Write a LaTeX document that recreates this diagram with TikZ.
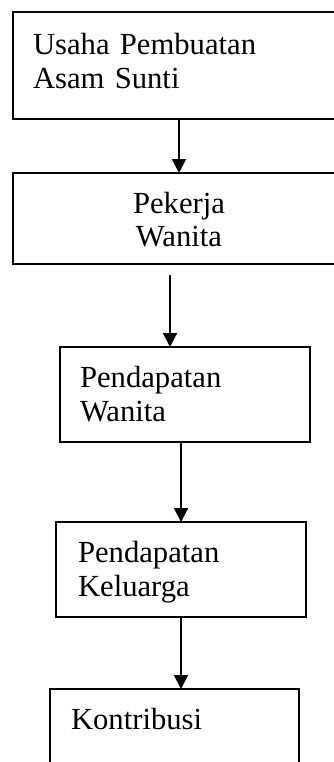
\documentclass[tikz,border=0pt]{standalone}
\usepackage{fontspec}
\setmainfont{Liberation Serif}
\usetikzlibrary{arrows.meta,positioning}

\begin{document}
\begin{tikzpicture}[x=0.375pt, y=-0.375pt, >={Triangle[length=5.2pt,width=5.2pt]}, line width=0.75pt]
    \tikzstyle{blok}=[draw,rectangle,anchor=north west,inner sep=0pt,outer sep=0pt]
    \tikzstyle{teks}=[inner sep=0pt,text width=110pt,align=left,anchor=base west,font=\fontsize{11.5pt}{12.75pt}\selectfont]
    \useasboundingbox (0,0) rectangle (333,762);

    % kotak
    \node[blok, minimum width=124.5pt, minimum height=40.125pt] (usaha) at (13,12) {};
    \node[blok, minimum width=124.5pt, minimum height=34.125pt] (pekerja) at (13,173) {};
    \node[blok, minimum width=93.75pt, minimum height=35.625pt] (pwanita) at (60,347) {};
    \node[blok, minimum width=93.75pt, minimum height=35.625pt] (pkeluarga) at (56,522) {};
    \node[blok, minimum width=93.375pt, minimum height=34.125pt] (kontribusi) at (50,689) {};

    % teks
    \node[teks] (usahatxt) at (32,55) {Usaha Pembuatan\\Asam Sunti};
    \node[teks, align=center, anchor=base] (pekerjatxt) at (179,213) {Pekerja\\Wanita};
    \node[teks] (pwanitatxt) at (79,387) {Pendapatan\\Wanita};
    \node[teks] (pkeluargatxt) at (77,562) {Pendapatan\\Keluarga};
    \node[teks] (kontribusitxt) at (70,729) {Kontribusi};

    % panah
    \coordinate (p2) at (170,275);
    \draw[->] (usaha) -- (pekerja);
    \draw[->] (p2) -- (p2 |- pwanita.north);
    \draw[->] (pkeluarga.north |- pwanita.south) -- (pkeluarga.north);
    \draw[->] (pkeluarga.south) -- (pkeluarga.south |- kontribusi.north);
\end{tikzpicture}
\end{document}
